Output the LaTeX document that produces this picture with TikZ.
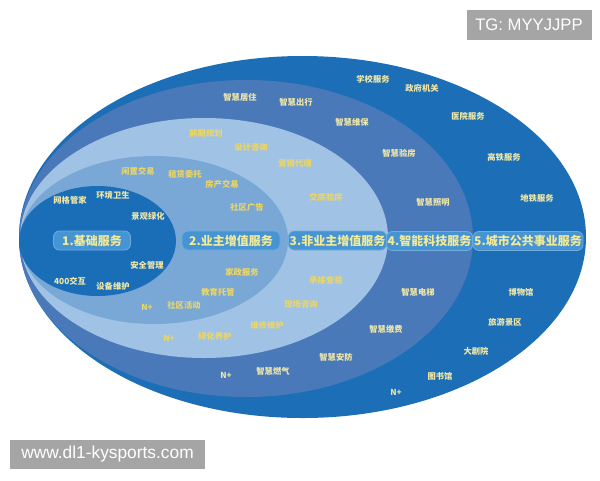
\documentclass[tikz,border=0pt]{standalone}
\usepackage{fontspec}
\setmainfont{Liberation Sans}
\newfontfamily\cjk{Noto Sans CJK SC}
\definecolor{c5}{RGB}{28,111,182}
\definecolor{c4}{RGB}{74,121,185}
\definecolor{c3}{RGB}{160,194,229}
\definecolor{c2}{RGB}{122,168,214}
\definecolor{c1}{RGB}{26,110,184}
\definecolor{pillc}{RGB}{70,148,211}
\definecolor{pilledge}{RGB}{110,172,222}
\definecolor{pilltxt}{RGB}{242,234,150}
\definecolor{lblc}{RGB}{242,232,166}
\definecolor{lbly}{RGB}{236,214,100}
\definecolor{wmgray}{RGB}{165,165,165}
\begin{document}
\begin{tikzpicture}[x=0.75pt,y=-0.75pt,
  sl/.style={font=\cjk\bfseries\fontsize{6.2pt}{7pt}\selectfont, text=lblc, inner sep=0pt},
  sly/.style={sl, text=lbly},
  pill/.style={font=\cjk\bfseries\fontsize{9pt}{10pt}\selectfont, text=pilltxt, fill=pillc,
    draw=pilledge, line width=0.6pt,
    rounded corners=4.5pt, minimum height=14.25pt, inner xsep=1pt, inner ysep=0pt},
  wm/.style={fill=wmgray, text=white, inner sep=0pt}]
\fill[white] (0,0) rectangle (600,480);
\useasboundingbox (0,0) rectangle (600,480);
% ellipses
\fill[c5] (302.5,237) ellipse [x radius=283.5, y radius=181];
\fill[c4] (246,238.5) ellipse [x radius=227, y radius=158.5];
\fill[c3] (204,238) ellipse [x radius=184, y radius=120];
\fill[c2] (154,240) ellipse [x radius=134, y radius=84];
\fill[c1] (97.5,241) ellipse [x radius=78.5, y radius=55];
% main labels
\node[pill, minimum width=57.75pt] (l1) at (92,240.5) {1.基础服务};
\node[pill, minimum width=73.5pt] (l2) at (231,240.5) {2.业主增值服务};
\node[pill, minimum width=69.75pt] (l3) at (337.5,240.5) {3.非业主增值服务};
\node[pill, minimum width=64.5pt] (l4) at (429.5,241) {4.智能科技服务};
\node[pill, minimum width=80.25pt] (l5) at (528,241) {5.城市公共事业服务};
% ring 1
\node[sl] (a1) at (70,200) {网格管家};
\node[sl] (a2) at (113,195) {环境卫生};
\node[sl] (a3) at (148,216) {景观绿化};
\node[sl] (a4) at (147,265) {安全管理};
\node[sl] (a5) at (70,281) {400交互};
\node[sl] (a6) at (113,286) {设备维护};
% ring 2
\node[sly] (b1) at (138,171) {闲置交易};
\node[sly] (b2) at (185,174) {租赁委托};
\node[sly] (b3) at (222,184) {房产交易};
\node[sly] (b4) at (247,207) {社区广告};
\node[sly] (b5) at (242,272) {家政服务};
\node[sly] (b6) at (218,292) {教育托管};
\node[sly] (b7) at (184,305) {社区活动};
\node[sly] (b8) at (147,307) {N+};
% ring 3
\node[sly] (c1n) at (206,133) {前期规划};
\node[sly] (c2n) at (251,147) {设计咨询};
\node[sly] (c3n) at (295,163) {营销代理};
\node[sly] (c4n) at (326,197) {交房验房};
\node[sly] (c5n) at (326,280) {承接查验};
\node[sly] (c6n) at (301,304) {现场咨询};
\node[sly] (c7n) at (267,325) {维修维护};
\node[sly] (c8n) at (215,336) {绿化养护};
\node[sly] (c9n) at (169,338) {N+};
% ring 4
\node[sl] (d1) at (240,97) {智慧居住};
\node[sl] (d2) at (296,102) {智慧出行};
\node[sl] (d3) at (352,122) {智慧维保};
\node[sl] (d4) at (399,153) {智慧验房};
\node[sl] (d5) at (433,202) {智慧照明};
\node[sl] (d6) at (418,292) {智慧电梯};
\node[sl] (d7) at (386,329) {智慧缴费};
\node[sl] (d8) at (336,357) {智慧安防};
\node[sl] (d9) at (273,371) {智慧燃气};
\node[sl] (d10) at (226,375) {N+};
% ring 5
\node[sl] (e1) at (373,79) {学校服务};
\node[sl] (e2) at (422,88) {政府机关};
\node[sl] (e3) at (468,116) {医院服务};
\node[sl] (e4) at (504,157) {高铁服务};
\node[sl] (e5) at (537,198) {地铁服务};
\node[sl] (e6) at (521,292) {博物馆};
\node[sl] (e7) at (505,322) {旅游景区};
\node[sl] (e8) at (476,351) {大剧院};
\node[sl] (e9) at (440,376) {图书馆};
\node[sl] (e10) at (396,392) {N+};
% watermarks
\node[wm, minimum width=93.75pt, minimum height=22.5pt, font=\fontsize{12.5pt}{14pt}\selectfont] (tg) at (529,25) {TG: MYYJJPP};
\node[wm, minimum width=146.25pt, minimum height=21.75pt, font=\fontsize{13pt}{15pt}\selectfont] (www) at (107.5,454.5) {www.dl1-kysports.com};
\end{tikzpicture}
\end{document}
